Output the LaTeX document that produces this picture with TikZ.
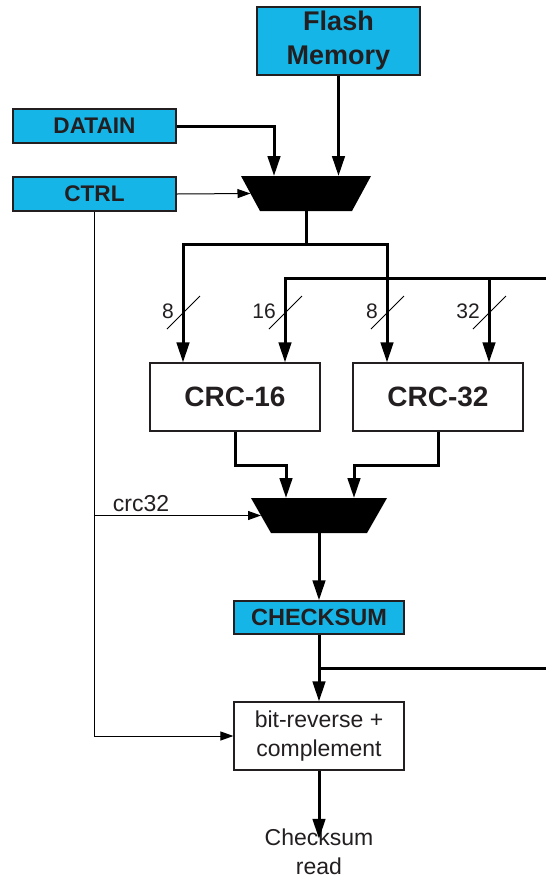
\documentclass[tikz,border=0pt]{standalone}
\usepackage{fontspec}
\setmainfont{Liberation Sans}
\usetikzlibrary{arrows.meta}
\definecolor{regblue}{RGB}{22,181,232}
\definecolor{ink}{RGB}{35,31,32}

\begin{document}
\begin{tikzpicture}[x=1pt, y=-1pt, >={Triangle[length=20pt,width=12.5pt]}, font=\fontsize{23}{29}\selectfont, text=ink]
  \tikzset{
    reg/.style={draw=ink, line width=1.4pt, fill=regblue, font=\fontsize{22.6}{26}\selectfont\bfseries, inner sep=0pt},
    block/.style={draw=ink, line width=1.2pt, fill=white, inner sep=0pt, minimum width=170pt, minimum height=68pt},
    mux/.style={inner sep=0pt, outer sep=0pt, minimum height=35pt},
    bus/.style={line width=3pt},
    sig/.style={line width=1pt, >={Triangle[length=13pt,width=9pt]}},
    tick/.style={line width=0.8pt},
    width/.style={font=\fontsize{21}{25}\selectfont, anchor=east, inner sep=0pt}
  }
  \useasboundingbox (0,0) rectangle (546,879);

  % registers
  \node[reg, minimum width=163pt, minimum height=68pt, align=center, font=\fontsize{27}{34}\selectfont\bfseries] (flash) at (338.5,41) {Flash\\Memory};
  \node[reg, minimum width=163pt, minimum height=34pt] (datain) at (94.5,126) {DATAIN};
  \node[reg, minimum width=163pt, minimum height=34pt] (ctrl) at (94.5,194) {CTRL};

  % input mux
  \node[mux, minimum width=111pt] (mux1) at (306,193.5) {};
  \fill ([xshift=-9.5pt]mux1.north west) -- ([xshift=9.5pt]mux1.north east)
    -- ([xshift=-9.5pt]mux1.south east) -- ([xshift=9.5pt]mux1.south west) -- cycle;
  \draw[bus,->] (flash.south) -- (flash.south |- mux1.north);
  \draw[bus,->] (datain.east) -| ([xshift=-32pt]mux1.north);
  \draw[sig,->] (ctrl.east) -- (mux1.west);

  % crc engines
  \node[block, font=\fontsize{28}{34}\selectfont\bfseries] (crc16) at (235,397) {CRC-16};
  \node[block, font=\fontsize{28}{34}\selectfont\bfseries] (crc32) at (438,397) {CRC-32};
  \coordinate (fork) at (306,244);
  \coordinate (fbin) at (546,278);
  \draw[bus] (mux1.south) -- (fork);
  \draw[bus,->] (fork) -| ([xshift=-52pt]crc16.north);
  \draw[bus,->] (fork) -| ([xshift=-51pt]crc32.north);
  \draw[bus,->] (fbin) -| ([xshift=50pt]crc16.north);
  \draw[bus,->] ([xshift=51pt]crc32.north |- fbin) -- ([xshift=51pt]crc32.north);

  % bus widths
  \draw[tick] (167,329) -- (200,296);
  \node[width] (w1) at (174,311) {8};
  \draw[tick] (269,329) -- (302,296);
  \node[width] (w2) at (276,311) {16};
  \draw[tick] (371,329) -- (404,296);
  \node[width] (w3) at (378,311) {8};
  \draw[tick] (473,329) -- (506,296);
  \node[width] (w4) at (480,311) {32};

  % output mux
  \node[mux, minimum width=116pt] (mux2) at (319,515.5) {};
  \fill ([xshift=-10pt]mux2.north west) -- ([xshift=10pt]mux2.north east)
    -- ([xshift=-10pt]mux2.south east) -- ([xshift=10pt]mux2.south west) -- cycle;
  \draw[bus,->] (crc16.south) -- ++(0,34) -| ([xshift=-33pt]mux2.north);
  \draw[bus,->] (crc32.south) -- ++(0,34) -| ([xshift=35pt]mux2.north);
  \draw[sig,->] (ctrl.south |- mux2.west) -- node[above, pos=0.28, inner sep=3pt] (sel) {crc32} (mux2.west);

  % result
  \node[reg, minimum width=170pt, minimum height=33pt, font=\fontsize{23.5}{28}\selectfont\bfseries] (checksum) at (319,617.5) {CHECKSUM};
  \node[block, align=center] (brc) at (319,736) {bit-reverse +\\complement};
  \node[align=center, inner sep=0pt] (read) at (319,852) {Checksum\\read};
  \coordinate (fbout) at (546,668);
  \draw[bus,->] (mux2.south) -- (checksum.north);
  \draw[bus,->] (checksum.south) -- (brc.north);
  \draw[bus] (checksum.south |- fbout) -- (fbout);
  \draw[bus,->] (brc.south) -- ([yshift=-10pt]read.north);
  \draw[sig,->] (ctrl.south) |- (brc.west);
\end{tikzpicture}
\end{document}
